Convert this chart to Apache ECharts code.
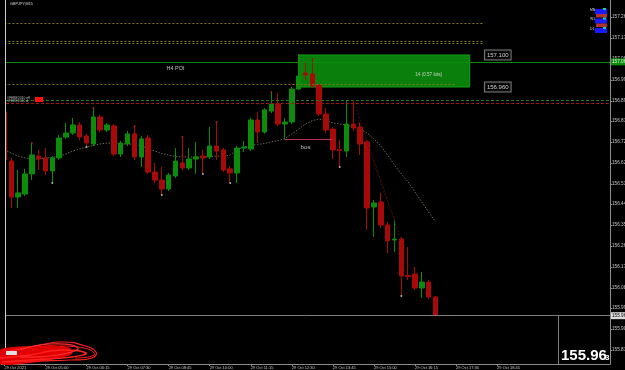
<!DOCTYPE html>
<html><head><meta charset="utf-8">
<script src="https://cdn.jsdelivr.net/npm/echarts@6/dist/echarts.min.js"></script>
<style>html,body{margin:0;padding:0;background:#000;}#c{width:625px;height:370px;}</style>
</head><body><div id="c"></div>
<script>
// ---------- data ----------
const symbolName = 'GBPJPY,M15';
const slotCount = 89;                       // 64 bars + empty future space
const timeTickIndex = [0, 6, 12, 18, 24, 30, 36, 42, 48, 54, 60, 66, 72];
const timeTickText = ['29 Oct 2021', '29 Oct 05:00', '29 Oct 06:15', '29 Oct 07:30', '29 Oct 08:45',
  '29 Oct 10:00', '29 Oct 11:15', '29 Oct 12:30', '29 Oct 13:45', '29 Oct 15:00',
  '29 Oct 16:15', '29 Oct 17:30', '29 Oct 18:45'];
const yTickValues = [157.266, 157.174, 157.082, 156.991, 156.899, 156.811, 156.720, 156.628, 156.536,
  156.448, 156.357, 156.265, 156.173, 156.081, 155.994, 155.902, 155.810];
const yMin = 155.7487, yMax = 157.3405;

const openPrices = [156.851,156.636,156.479,156.492,156.580,156.658,156.650,156.593,156.650,156.741,
  156.759,156.794,156.746,156.711,156.829,156.772,156.790,156.667,156.711,156.755,
  156.654,156.737,156.588,156.553,156.514,156.571,156.628,156.606,156.645,156.658,
  156.654,156.702,156.685,156.602,156.584,156.693,156.689,156.816,156.763,156.855,
  156.886,156.798,156.807,156.951,157.021,157.017,156.969,156.842,156.776,156.687,
  156.680,156.798,156.785,156.720,156.435,156.457,156.357,156.291,156.295,156.136,
  156.142,156.081,156.107,156.042];
const closePrices = [156.641,156.479,156.497,156.580,156.663,156.645,156.593,156.650,156.737,156.759,
  156.794,156.741,156.715,156.829,156.772,156.794,156.667,156.715,156.755,156.654,
  156.733,156.588,156.553,156.514,156.575,156.636,156.606,156.645,156.654,156.650,
  156.702,156.680,156.597,156.584,156.693,156.698,156.816,156.763,156.860,156.886,
  156.798,156.807,156.951,157.008,157.013,156.964,156.842,156.772,156.685,156.682,
  156.798,156.781,156.711,156.431,156.453,156.357,156.287,156.295,156.134,156.131,
  156.081,156.107,156.042,155.963];
const lowPrices = [156.632,156.431,156.431,156.483,156.553,156.597,156.575,156.540,156.641,156.733,
  156.750,156.728,156.698,156.702,156.763,156.763,156.658,156.654,156.702,156.641,
  156.610,156.580,156.540,156.488,156.505,156.562,156.597,156.597,156.580,156.580,
  156.645,156.641,156.588,156.540,156.540,156.676,156.680,156.715,156.755,156.846,
  156.790,156.728,156.798,156.947,156.991,156.956,156.833,156.759,156.645,156.610,
  156.654,156.768,156.663,156.335,156.304,156.344,156.234,156.239,156.046,156.116,
  156.072,156.037,156.033,155.960];
const highPrices = [156.868,156.650,156.597,156.602,156.715,156.685,156.693,156.658,156.750,156.803,
  156.825,156.807,156.755,156.868,156.838,156.803,156.798,156.724,156.768,156.790,
  156.746,156.750,156.628,156.610,156.584,156.693,156.741,156.693,156.720,156.685,
  156.785,156.807,156.693,156.615,156.702,156.724,156.825,156.851,156.868,156.938,
  156.934,156.825,156.960,157.104,157.069,157.087,156.973,156.868,156.785,156.728,
  156.903,156.903,156.807,156.728,156.466,156.497,156.370,156.378,156.304,156.260,
  156.173,156.151,156.116,156.046];
const maValues = [156.685,156.671,156.658,156.650,156.645,156.645,156.650,156.652,156.658,156.667,
  156.680,156.689,156.698,156.704,156.711,156.715,156.713,156.711,156.711,156.709,
  156.702,156.691,156.680,156.669,156.663,156.656,156.654,156.654,156.654,156.654,
  156.656,156.658,156.656,156.663,156.685,156.698,156.704,156.709,156.713,156.720,
  156.726,156.735,156.755,156.776,156.798,156.813,156.820,156.813,156.803,156.798,
  156.794,156.785,156.776,156.759,156.733,156.702,156.663,156.619,156.580,156.545,
  156.501,156.457,156.413,156.370];
const upDotIndex = [4, 13, 19, 26, 31, 39];
const upDotValue = [156.715, 156.868, 156.790, 156.741, 156.807, 156.938];
const downDotIndex = [7, 12, 23, 29, 33, 49, 58];
const downDotValue = [156.540, 156.698, 156.488, 156.580, 156.540, 156.610, 156.046];

const zoneTop = 157.100, zoneBottom = 156.960, zoneStart = 43, zoneEnd = 68;
const yellowLevels = [157.240, 157.161, 157.152];
const yellowLevelEnd = 70;
const midYellowLevel = 156.973, midYellowEnd = 66;
const greenLevel = 157.069;
const greenDotLevel = 156.899;
const redDotLevel = 156.886;
const currentPrice = 155.963;
const bosLevel = 156.733, bosStart = 41, bosEnd = 48;
const trendA = [[51, 156.903], [57, 156.378]];
const trendB = [[52, 156.794], [58, 156.291]];

// ---------- chart ----------
const FONT = 'Liberation Sans';
const categories = Array.from({length: slotCount}, (_, i) => String(i));
const labelFor = i => { const k = timeTickIndex.indexOf(i); return k >= 0 ? timeTickText[k] : ''; };
const candles = openPrices.map((o, i) => [o, closePrices[i], lowPrices[i], highPrices[i]]);

const yellowStyle = {color: '#7e7c22', width: 1, type: [2, 2]};
const levelData = [];
yellowLevels.forEach(v => levelData.push([
  {coord: [0, v], lineStyle: yellowStyle}, {coord: [yellowLevelEnd, v], lineStyle: yellowStyle}]));
levelData.push([{coord: [0, midYellowLevel], lineStyle: yellowStyle}, {coord: [midYellowEnd, midYellowLevel], lineStyle: yellowStyle}]);
levelData.push({yAxis: greenLevel, lineStyle: {color: '#0b8a0b', width: 1, type: 'solid'},
  label: {show: true, position: 'end', distance: 1, formatter: greenLevel.toFixed(3), backgroundColor: '#0b8a0b',
    color: '#d8ffd8', fontSize: 4.7, fontFamily: FONT, padding: [1, 1]}});
levelData.push({yAxis: greenDotLevel, lineStyle: {color: '#247a24', width: 1, type: [3, 2]}});
levelData.push({yAxis: redDotLevel, lineStyle: {color: '#a01414', width: 1, type: [3, 2]}});
levelData.push({yAxis: currentPrice, lineStyle: {color: '#7c7c7c', width: 1, type: 'solid'},
  label: {show: true, position: 'end', distance: 1, formatter: currentPrice.toFixed(3), backgroundColor: '#dcdcdc',
    color: '#000', fontSize: 4.7, fontFamily: FONT, padding: [1, 1]}});
const bosStyle = {color: '#b8305a', width: 1, type: 'solid'};
levelData.push([{coord: [bosStart, bosLevel], lineStyle: bosStyle}, {coord: [bosEnd, bosLevel], lineStyle: bosStyle}]);
const trendStyle = {color: '#5e1010', width: 0.8, type: [1.5, 2]};
[trendA, trendB].forEach(t => levelData.push([{coord: t[0], lineStyle: trendStyle}, {coord: t[1], lineStyle: trendStyle}]));

const chart = echarts.init(document.getElementById('c'), null, {renderer: 'canvas', width: 625, height: 370});
chart.setOption({
  backgroundColor: '#000',
  animation: false,
  textStyle: {fontFamily: FONT},
  grid: {left: 1, right: 15, top: 0, bottom: 6, containLabel: false, outerBoundsMode: 'none'},
  xAxis: {
    type: 'category', data: categories, boundaryGap: true,
    axisLine: {show: true, lineStyle: {color: '#8c8c8c', width: 1}},
    axisTick: {show: true, alignWithLabel: true, length: 2, interval: (i) => timeTickIndex.includes(i), lineStyle: {color: '#8c8c8c'}},
    axisLabel: {interval: 0, formatter: (v, i) => labelFor(i), align: 'left', color: '#c8c8c8', fontSize: 4, fontFamily: FONT, margin: 1.5},
    splitLine: {show: false}
  },
  yAxis: {
    type: 'value', position: 'right', min: yMin, max: yMax, scale: true,
    axisLine: {show: true, lineStyle: {color: '#8c8c8c', width: 1}},
    axisTick: {show: true, customValues: yTickValues, length: 2, lineStyle: {color: '#8c8c8c'}},
    axisLabel: {customValues: yTickValues, formatter: v => v.toFixed(3), color: '#c8c8c8', fontSize: 4.7, fontFamily: FONT, margin: 2},
    splitLine: {show: false}
  },
  series: [
    {
      name: 'zone', type: 'line', data: [], z: 1, silent: true,
      markArea: {silent: true, itemStyle: {color: '#0b7f0b', borderColor: '#16a016', borderWidth: 1},
        data: [[{xAxis: zoneStart, yAxis: zoneTop}, {xAxis: zoneEnd, yAxis: zoneBottom}]]}
    },
    {
      name: 'MA', type: 'line', data: maValues, z: 2, symbol: 'none', silent: true,
      lineStyle: {color: '#6e6c52', width: 1, type: [1.5, 1.5]}
    },
    {
      name: symbolName, type: 'candlestick', data: candles, z: 3, barWidth: 5,
      itemStyle: {color: '#0b8c0b', color0: '#a80a0a', borderColor: '#0b8c0b', borderColor0: '#a80a0a', borderWidth: 1}
    },
    {
      name: 'levels', type: 'line', data: [], z: 4, silent: true,
      markLine: {silent: true, symbol: ['none', 'none'], label: {show: false}, animation: false, data: levelData}
    },
    {
      name: 'up', type: 'scatter', z: 5, symbolSize: 2, itemStyle: {color: '#d02020'},
      data: upDotIndex.map((x, i) => [x, upDotValue[i]])
    },
    {
      name: 'down', type: 'scatter', z: 5, symbolSize: 2, itemStyle: {color: '#d8d8d8'},
      data: downDotIndex.map((x, i) => [x, downDotValue[i]])
    },
    {
      name: 'notes', type: 'scatter', z: 6, symbolSize: 1, itemStyle: {color: 'rgba(0,0,0,0)'}, silent: true,
      label: {show: true, position: 'inside', color: '#e8e8e8', fontFamily: FONT},
      data: [
        {value: [25, 157.041], label: {formatter: 'H4 POI', fontSize: 5.5}},
        {value: [44, 156.698], label: {formatter: 'bos', fontSize: 6.2}},
        {value: [62, 157.015], label: {formatter: '14 (0.57 lots)', fontSize: 4.6}}
      ]
    },
    {
      name: 'zonePrices', type: 'scatter', z: 6, symbolSize: 1, itemStyle: {color: 'rgba(0,0,0,0)'}, silent: true,
      label: {show: true, position: 'right', distance: 1, color: '#ffffff', fontSize: 6, fontFamily: FONT,
        backgroundColor: '#000', borderColor: '#9a9a9a', borderWidth: 1, padding: [2, 2, 1, 2]},
      data: [
        {value: [70, zoneTop], label: {formatter: zoneTop.toFixed(3)}},
        {value: [70, zoneBottom], label: {formatter: zoneBottom.toFixed(3)}}
      ]
    }
  ],
  graphic: [
    {type: 'rect', z: 50, shape: {x: 0, y: 0, width: 5, height: 364}, style: {fill: '#000'}},
    {type: 'line', z: 51, shape: {x1: 5.5, y1: 0, x2: 5.5, y2: 364}, style: {stroke: '#cfcfcf', lineWidth: 1}},
    {type: 'text', z: 51, x: 10, y: 2, style: {text: symbolName, fill: '#d8d8d8', fontSize: 3.8, fontFamily: FONT, verticalAlign: 'top'}},
    {type: 'text', z: 51, x: 7, y: 96.5, style: {text: '#FEBE2010 eff', fill: '#b8b8b8', fontSize: 3.4, fontFamily: FONT, verticalAlign: 'top'}},
    {type: 'text', z: 51, x: 7, y: 100, style: {text: '#FEBE2010 d', fill: '#b8b8b8', fontSize: 3.4, fontFamily: FONT, verticalAlign: 'top'}},
    {type: 'rect', z: 51, shape: {x: 35, y: 97, width: 8, height: 5}, style: {fill: '#ff1010'}},
    // timeframe panel top-right
    {type: 'text', z: 51, x: 590, y: 8.5, style: {text: 'MN', fill: '#dddddd', fontSize: 3.4, fontFamily: FONT, verticalAlign: 'top'}},
    {type: 'text', z: 51, x: 590, y: 18, style: {text: 'W1', fill: '#dddddd', fontSize: 3.4, fontFamily: FONT, verticalAlign: 'top'}},
    {type: 'text', z: 51, x: 590, y: 28, style: {text: 'D1', fill: '#dddddd', fontSize: 3.4, fontFamily: FONT, verticalAlign: 'top'}},
    {type: 'rect', z: 51, shape: {x: 595, y: 9, width: 12, height: 5}, style: {fill: '#1a1aff'}},
    {type: 'rect', z: 51, shape: {x: 596, y: 14, width: 11, height: 3.5}, style: {fill: '#b03232'}},
    {type: 'rect', z: 51, shape: {x: 595, y: 18.5, width: 12, height: 5}, style: {fill: '#1a1aff'}},
    {type: 'rect', z: 51, shape: {x: 596, y: 23.5, width: 11, height: 3.5}, style: {fill: '#b03232'}},
    {type: 'rect', z: 51, shape: {x: 595, y: 28, width: 12, height: 5}, style: {fill: '#1a1aff'}},
    {type: 'rect', z: 52, shape: {x: 603, y: 8, width: 3, height: 2}, style: {fill: '#22c8c8'}},
    {type: 'rect', z: 52, shape: {x: 603, y: 17.5, width: 3, height: 2}, style: {fill: '#22c8c8'}},
    {type: 'rect', z: 52, shape: {x: 603, y: 27, width: 3, height: 2}, style: {fill: '#22c8c8'}},
    // big price box
    {type: 'line', z: 51, shape: {x1: 558.5, y1: 315, x2: 558.5, y2: 364}, style: {stroke: '#7c7c7c', lineWidth: 1}},
    {type: 'text', z: 51, x: 561, y: 348, style: {text: '155.96', fill: '#ffffff', fontSize: 15, fontWeight: 'bold', fontFamily: FONT, verticalAlign: 'top'}},
    {type: 'text', z: 51, x: 605, y: 354, style: {text: '3', fill: '#ffffff', fontSize: 8, fontWeight: 'bold', fontFamily: FONT, verticalAlign: 'top'}},
    // red scribble (redaction) bottom-left
    {type: 'polygon', z: 51, shape: {points: [[0, 350], [14, 347], [32, 346], [52, 345], [70, 348], [72, 354], [55, 359], [30, 363], [0, 364]], smooth: 0.3}, style: {fill: '#e00000'}},
    {type: 'polyline', z: 52, shape: {points: [[10, 351], [40, 345], [62, 342], [82, 345], [96, 352], [92, 358], [70, 360], [40, 361], [8, 362]], smooth: 0.5}, style: {stroke: '#ff2020', lineWidth: 1.2, fill: null}},
    {type: 'polyline', z: 52, shape: {points: [[0, 358], [30, 355], [60, 350], [86, 353], [72, 357], [30, 360], [2, 362]], smooth: 0.5}, style: {stroke: '#ff2020', lineWidth: 1.5, fill: null}},
    {type: 'polyline', z: 52, shape: {points: [[20, 350], [50, 344], [78, 348], [58, 355], [20, 357]], smooth: 0.5}, style: {stroke: '#ff3030', lineWidth: 1.2, fill: null}},
    {type: 'polyline', z: 52, shape: {points: [[60, 346], [88, 349], [94, 355], [75, 358]], smooth: 0.5}, style: {stroke: '#ff1a1a', lineWidth: 1, fill: null}},
    {type: 'rect', z: 53, shape: {x: 6, y: 351, width: 11, height: 4}, style: {fill: '#e0e0e0'}}
  ]
});
</script>
</body></html>
